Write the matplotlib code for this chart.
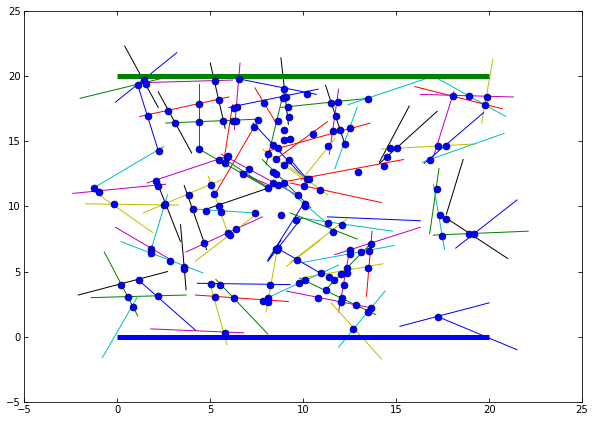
import matplotlib
matplotlib.use('Agg')
import matplotlib.pyplot as plt

# walls (thick lines)
wall_top_x = [0, 20]
wall_top_y = [20, 20]
wall_bot_x = [0, 20]
wall_bot_y = [0, 0]

# segments: start x, start y, end x, end y, colour
seg_x0 = [0.4, -0.1, -2.0, 1.4, 1.1, 2.2, 1.2, 2.6, 4.4, 5.0,
          6.6, -1.3, 4.4, 8.8, 5.8, 6.0, 7.4, 9.0, 8.8, 12.4,
          17.0, 11.2, 11.9, 12.9, 8.0, 7.3, 6.2, 7.4, 1.6, 5.6,
          7.8, 9.9, 8.5, 9.0, 9.3, 7.8, 9.0, 4.8, 6.6, 6.6,
          9.3, 9.3, 15.7, 17.2, 14.2, 18.1, 16.0, 16.3, 20.2, 19.7,
          16.4, 17.3, 17.0, 18.6, 17.7, 17.0, 18.2, 15.2, 17.3, 11.3,
          9.9, 9.3, 9.3, 11.7, 10.0, 13.7, 9.9, 11.2, 12.5, 9.8,
          9.1, 11.5, 11.9, 8.6, 8.8, 8.6, 9.1, 4.3, 4.2, 5.0,
          5.3, 1.8, 8.1, -1.7, -1.2, 1.4, -2.4, 2.1, 3.4, 2.7,
          3.6, 4.1, 5.8, 4.9, 3.7, 4.2, -0.1, 0.2, -2.1, -0.7,
          -1.4, 1.1, 1.1, 8.1, 10.1]
seg_y0 = [22.3, 18.0, 18.3, 19.5, 19.3, 18.8, 16.9, 16.4, 19.4, 21.0,
          21.0, 11.4, 14.4, 21.4, 20.0, 17.6, 19.1, 19.1, 17.6, 17.8,
          20.0, 19.3, 19.0, 17.6, 14.2, 16.4, 17.8, 16.2, 11.8, 14.0,
          14.4, 12.0, 13.6, 11.9, 11.8, 13.6, 11.5, 9.8, 12.7, 12.6,
          13.6, 13.0, 17.7, 17.3, 14.4, 18.8, 19.2, 18.6, 21.3, 17.2,
          13.4, 12.9, 11.7, 13.6, 9.1, 7.8, 6.8, 0.8, 1.5, 9.2,
          9.1, 9.5, 5.7, 6.3, 5.7, 8.1, 4.5, 3.6, 6.7, 4.5,
          3.5, 2.6, -0.8, 6.8, 7.4, 6.7, 5.4, 4.1, 3.2, 4.0,
          4.4, 0.6, 3.0, 10.2, 11.1, 9.5, 11.0, 12.0, 8.6, 10.9,
          11.6, 9.8, 13.6, 12.3, 6.5, 5.8, 8.4, 7.3, 3.2, 6.5,
          3.0, 4.4, 3.1, 5.8, 10.4]
seg_x1 = [2.2, 3.2, 2.6, 6.2, 2.2, 4.0, 6.0, 7.6, 4.4, 5.8,
          6.3, 2.5, 8.1, 9.2, 10.7, 10.8, 8.5, 8.0, 13.5, 17.0,
          20.9, 12.3, 11.4, 11.7, 13.6, 10.1, 5.7, 5.2, 5.8, 9.9,
          10.0, 11.7, 11.3, 15.4, 14.2, 10.4, 11.2, 8.1, 8.1, 8.4,
          10.2, 11.3, 14.1, 14.1, 19.3, 17.0, 20.7, 21.3, 19.6, 16.5,
          20.8, 16.8, 17.6, 17.7, 21.0, 22.1, 21.5, 20.0, 21.5, 16.3,
          14.8, 12.9, 12.4, 16.3, 14.9, 13.4, 14.3, 13.6, 11.9, 13.9,
          13.7, 14.2, 14.4, 10.9, 8.1, 8.0, 10.9, 9.3, 9.2, 5.9,
          8.1, 6.8, 11.9, 3.3, 1.9, 5.7, 2.6, 3.4, 3.7, 1.7,
          4.8, 7.4, 7.4, 6.0, 7.8, 7.3, 3.0, 4.6, 2.7, 1.1,
          3.7, 4.2, -0.8, 9.9, 8.1]
seg_y1 = [17.6, 21.8, 19.9, 19.7, 14.3, 14.1, 18.4, 16.7, 14.4, 16.0,
          15.9, 14.6, 11.4, 16.3, 18.6, 19.0, 16.5, 13.2, 18.3, 20.0,
          16.9, 14.5, 14.0, 12.9, 16.4, 12.1, 13.2, 10.8, 13.8, 10.7,
          12.1, 15.2, 16.5, 13.6, 10.3, 9.9, 8.8, 11.4, 11.5, 11.5,
          12.1, 10.9, 13.4, 13.3, 14.8, 13.8, 17.5, 18.4, 16.4, 13.3,
          15.6, 7.9, 6.7, 9.4, 6.0, 8.1, 10.5, 2.6, -1.0, 8.9,
          8.1, 7.5, 9.1, 8.4, 7.0, 3.1, 5.6, 7.1, 1.9, 1.7,
          2.2, -1.7, 3.5, 4.9, 5.8, 1.9, 7.4, 4.0, 2.7, -0.6,
          0.2, 0.3, 5.5, 10.1, 8.0, 12.1, 11.7, 7.3, 3.6, 6.1,
          6.7, 9.5, 12.1, 7.7, 9.2, 9.2, 5.8, 4.9, 5.0, 1.6,
          3.2, 0.5, -1.6, 9.1, 5.9]
seg_colors = ['k', 'b', 'g', 'm', 'b', 'k', 'r', 'g', 'r', 'k',
              'm', 'c', 'g', 'k', 'b', 'b', 'r', 'g', 'g', 'c',
              'c', 'k', 'm', 'c', 'r', 'b', 'r', 'r', 'm', 'm',
              'y', 'y', 'r', 'r', 'r', 'g', 'c', 'k', 'g', 'm',
              'b', 'y', 'k', 'k', 'y', 'm', 'r', 'm', 'y', 'b',
              'c', 'g', 'c', 'k', 'k', 'g', 'b', 'b', 'b', 'b',
              'c', 'g', 'y', 'm', 'c', 'r', 'y', 'g', 'm', 'g',
              'm', 'y', 'c', 'b', 'b', 'y', 'y', 'b', 'r', 'y',
              'g', 'm', 'c', 'y', 'y', 'y', 'm', 'k', 'k', 'c',
              'k', 'c', 'g', 'y', 'm', 'y', 'm', 'c', 'k', 'g',
              'g', 'b', 'c', 'b', 'b']

# blue dots
dot_x = [1.41, 1.09, 1.52, 6.52, 5.23, 4.37, 5.45, 1.63, 2.70, 3.08,
         4.42, 5.71, 6.20, 6.36, 6.42, 6.26, 7.33, 2.22, 4.42, 5.45,
         5.88, 5.98, 5.77, 8.95, 9.05, 8.89, 10.18, 7.87, 9.16, 9.21,
         7.54, 8.62, 8.95, 8.95, 9.27, 8.35, 8.62, 8.13, 8.51, 9.21,
         8.95, 10.55, 11.47, 11.85, 13.51, 11.74, 11.58, 11.96, 12.54, 12.22,
         11.31, 14.69, 15.02, 18.03, 18.94, 19.91, 19.75, 17.27, 17.70, 16.84,
         14.53, 14.32, 12.97, 10.18, 10.29, 10.02, 9.70, 10.88, 10.12, 10.12,
         17.17, 17.33, 17.70, 18.94, 19.21, 17.49, 17.27, 9.59, 8.78, 7.38,
         11.31, 12.06, 11.58, 9.64, 10.93, 11.36, 11.68, 12.01, 12.33, 12.33,
         12.17, 12.49, 12.49, 13.13, 13.56, 13.62, 13.51, 11.20, 10.82, 12.06,
         12.01, 12.86, 13.67, 13.51, 12.70, 10.12, 9.75, 8.57, 8.62, 5.02,
         5.50, 8.19, 5.23, 6.26, 7.81, 8.08, 8.13, 5.77, -0.20, 2.49,
         2.54, -1.01, -1.27, 2.06, 2.17, 3.83, 5.02, 1.79, 1.79, 4.05,
         4.75, 5.55, 5.45, 5.18, 5.98, 6.04, 6.36, 4.64, 2.81, 3.56,
         3.56, 0.18, 0.55, 0.82, 1.15, 2.17, 8.51, 6.74, 7.06, 8.40,
         8.51, 8.35, 8.62, 8.95, 8.13]
dot_y = [19.72, 19.34, 19.42, 19.80, 19.65, 17.88, 18.19, 16.96, 17.35, 16.42,
         16.50, 16.58, 16.58, 16.58, 17.65, 17.57, 16.12, 14.27, 14.43, 13.58,
         13.81, 13.89, 13.35, 19.03, 18.42, 18.35, 18.65, 17.96, 17.65, 16.88,
         16.65, 16.58, 15.89, 15.12, 15.20, 14.74, 14.50, 14.04, 13.66, 13.58,
         13.20, 15.58, 17.96, 18.04, 18.27, 16.96, 15.81, 15.89, 16.04, 14.81,
         14.66, 14.50, 14.50, 18.50, 18.50, 18.42, 17.81, 14.66, 14.66, 13.58,
         13.81, 13.12, 12.66, 12.13, 12.13, 11.59, 10.90, 11.28, 10.21, 10.05,
         11.36, 9.36, 9.06, 7.91, 7.91, 7.75, 1.53, 8.98, 9.36, 9.52,
         8.75, 8.60, 8.06, 5.91, 4.91, 4.60, 4.37, 4.84, 4.91, 5.30,
         3.99, 6.68, 6.37, 6.52, 6.60, 7.14, 5.30, 3.61, 2.99, 2.99,
         2.69, 2.46, 2.23, 1.92, 0.61, 4.37, 4.14, 6.68, 6.83, 4.07,
         3.99, 3.99, 3.07, 2.99, 2.76, 2.99, 2.69, 0.31, 10.21, 10.13,
         10.21, 11.13, 11.44, 11.97, 11.59, 10.90, 11.67, 6.75, 6.45, 9.82,
         9.67, 9.59, 10.05, 10.98, 7.98, 7.83, 8.29, 7.21, 5.83, 5.37,
         5.22, 3.99, 3.07, 2.30, 4.37, 3.15, 6.75, 12.51, 12.89, 12.66,
         12.51, 11.82, 11.67, 11.82, 11.44]

fig = plt.figure(figsize=(8.25, 5.875), dpi=72)
ax = fig.add_axes([0.041, 0.050, 0.939, 0.924])

for x0, y0, x1, y1, c in zip(seg_x0, seg_y0, seg_x1, seg_y1, seg_colors):
    ax.plot([x0, x1], [y0, y1], color=c, lw=1)

ax.plot(wall_top_x, wall_top_y, color='g', lw=5, solid_capstyle='butt')
ax.plot(wall_bot_x, wall_bot_y, color='b', lw=5, solid_capstyle='butt')

ax.plot(dot_x, dot_y, 'o', color='b', ms=7, mec='#000060', mew=0.6, zorder=5)

ax.set_xlim(-5, 25)
ax.set_ylim(-5, 25)
ax.set_xticks(range(-5, 26, 5))
ax.set_yticks(range(-5, 26, 5))
ax.tick_params(direction='in', top=True, right=True, length=4, labelsize=10)

fig.savefig('out.png', dpi=72)
